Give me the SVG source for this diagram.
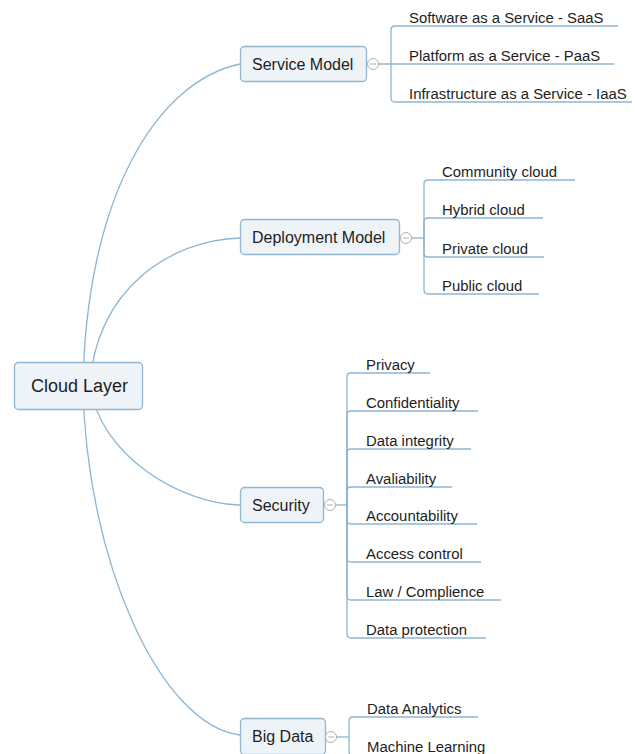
<svg xmlns="http://www.w3.org/2000/svg" width="635" height="754" viewBox="0 0 635 754">
<style>
.c{fill:none;stroke:#8db5d3;stroke-width:1.3}
.box{fill:#eef3f8;stroke:#93b6d0;stroke-width:1.3}
.t{font-family:"Liberation Sans",Arial,sans-serif;fill:#1e1e1e}
.main{font-size:16px}
.root{font-size:18px}
.leaf{font-size:14.9px}
.col{fill:#fff;stroke:#b0b0b0;stroke-width:1}
.mn{stroke:#b0b0b0;stroke-width:1}
</style>
<rect width="635" height="754" fill="#fff"/>
<g id="connectors">
<path class="c" d="M83,386 C86,200 155,82 240,64"/>
<path class="c" d="M90,386 C95,290 170,240 240,238"/>
<path class="c" d="M90,386 C100,455 180,504 240,505"/>
<path class="c" d="M83,386 C86,560 160,725 240,735"/>
<path class="c" d="M378,64 H614"/>
<path class="c" d="M391,64 V30 Q391,26 395,26 H618"/>
<path class="c" d="M391,64 V98 Q391,102 395,102 H632"/>
<path class="c" d="M411,238 H424"/>
<path class="c" d="M424,238 V184 Q424,180 428,180 H575"/>
<path class="c" d="M424,238 V222 Q424,218 428,218 H543"/>
<path class="c" d="M424,238 V253 Q424,257 428,257 H544"/>
<path class="c" d="M424,238 V290 Q424,294 428,294 H539"/>
<path class="c" d="M335,505 H347"/>
<path class="c" d="M347,505 V377 Q347,373 351,373 H430"/>
<path class="c" d="M347,505 V415 Q347,411 351,411 H478"/>
<path class="c" d="M347,505 V453 Q347,449 351,449 H471"/>
<path class="c" d="M347,505 V491 Q347,487 351,487 H452"/>
<path class="c" d="M347,505 V520 Q347,524 351,524 H477"/>
<path class="c" d="M347,505 V558 Q347,562 351,562 H481"/>
<path class="c" d="M347,505 V596 Q347,600 351,600 H501"/>
<path class="c" d="M347,505 V634 Q347,638 351,638 H486"/>
<path class="c" d="M336,737 H349"/>
<path class="c" d="M349,737 V721 Q349,717 353,717 H478"/>
<path class="c" d="M349,737 V752 Q349,756 353,756 H500"/>
</g>
<g id="cloud-layer">
<rect class="box" x="14.5" y="362.5" width="128" height="47" rx="4"/>
<text class="t root" x="31" y="392">Cloud Layer</text>
</g>
<g id="service-model">
<rect class="box" x="240.5" y="46.5" width="126" height="35" rx="4"/>
<text class="t main" x="252" y="70">Service Model</text>
<circle class="col" cx="373" cy="64" r="5.5"/><line class="mn" x1="370" y1="64" x2="376" y2="64"/>
</g>
<g id="saas"><text class="t leaf" x="409" y="23">Software as a Service - SaaS</text></g>
<g id="paas"><text class="t leaf" x="409" y="61">Platform as a Service - PaaS</text></g>
<g id="iaas"><text class="t leaf" x="409" y="99">Infrastructure as a Service - IaaS</text></g>
<g id="deployment-model">
<rect class="box" x="240.5" y="219.5" width="159" height="35" rx="4"/>
<text class="t main" x="252" y="243">Deployment Model</text>
<circle class="col" cx="406" cy="238" r="5.5"/><line class="mn" x1="403" y1="238" x2="409" y2="238"/>
</g>
<g id="community"><text class="t leaf" x="442" y="177">Community cloud</text></g>
<g id="hybrid"><text class="t leaf" x="442" y="215">Hybrid cloud</text></g>
<g id="private"><text class="t leaf" x="442" y="254">Private cloud</text></g>
<g id="public"><text class="t leaf" x="442" y="291">Public cloud</text></g>
<g id="security">
<rect class="box" x="240.5" y="487.5" width="83" height="35" rx="4"/>
<text class="t main" x="252" y="511">Security</text>
<circle class="col" cx="330" cy="505" r="5.5"/><line class="mn" x1="327" y1="505" x2="333" y2="505"/>
</g>
<g id="privacy"><text class="t leaf" x="366" y="370">Privacy</text></g>
<g id="confidentiality"><text class="t leaf" x="366" y="408">Confidentiality</text></g>
<g id="data-integrity"><text class="t leaf" x="366" y="446">Data integrity</text></g>
<g id="availability"><text class="t leaf" x="366" y="484">Avaliability</text></g>
<g id="accountability"><text class="t leaf" x="366" y="521">Accountability</text></g>
<g id="access-control"><text class="t leaf" x="366" y="559">Access control</text></g>
<g id="law"><text class="t leaf" x="366" y="597">Law / Complience</text></g>
<g id="data-protection"><text class="t leaf" x="366" y="635">Data protection</text></g>
<g id="big-data">
<rect class="box" x="240.5" y="718.5" width="85" height="36" rx="4"/>
<text class="t main" x="252" y="742">Big Data</text>
<circle class="col" cx="331" cy="737" r="5.5"/><line class="mn" x1="328" y1="737" x2="334" y2="737"/>
</g>
<g id="data-analytics"><text class="t leaf" x="367" y="714">Data Analytics</text></g>
<g id="machine-learning"><text class="t leaf" x="367" y="752">Machine Learning</text></g>
</svg>
